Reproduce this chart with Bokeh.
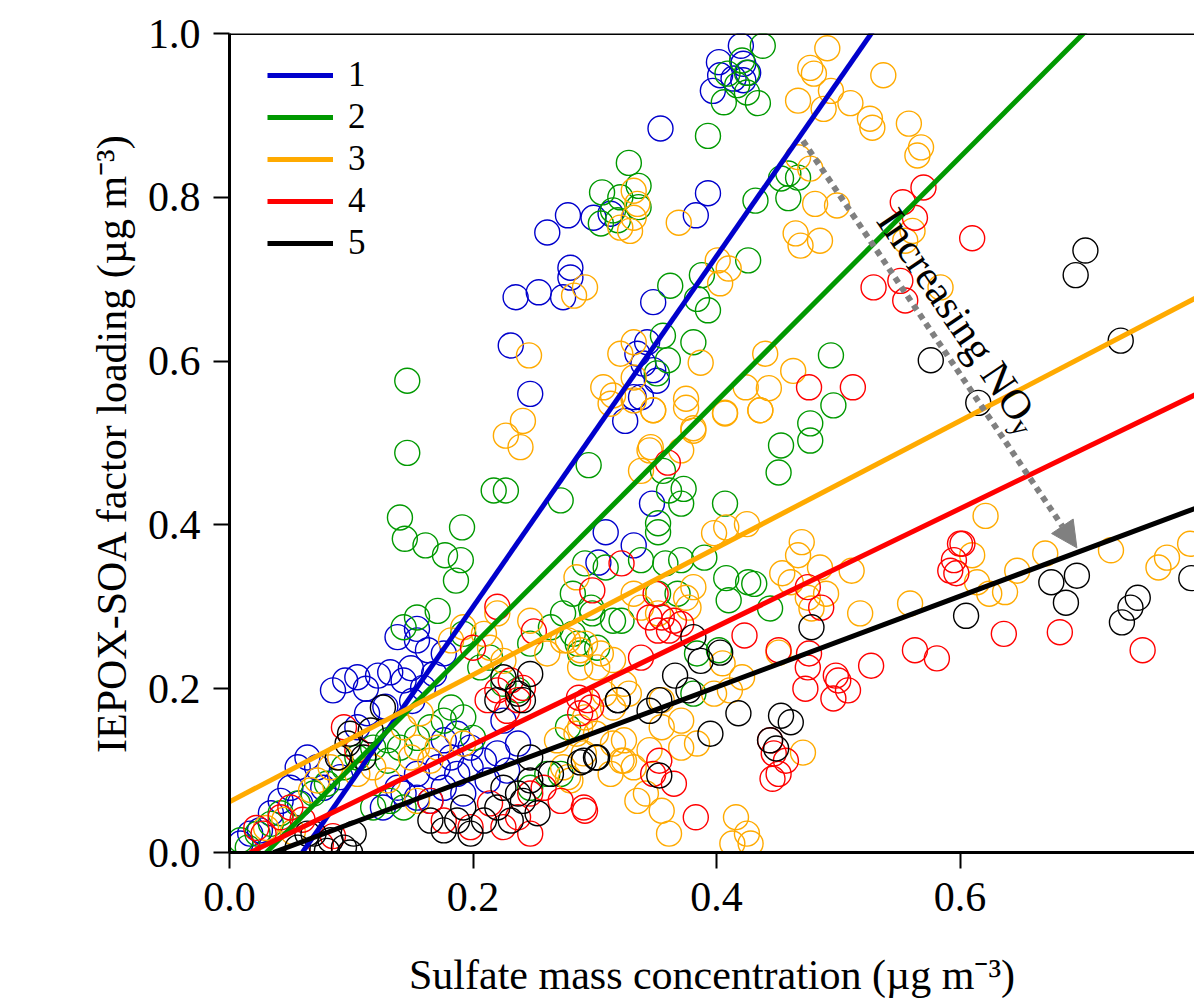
from bokeh.plotting import figure
from bokeh.models import (Range1d, FixedTicker, PrintfTickFormatter, Legend, LegendItem,
                          Label, Arrow, NormalHead, Span, ColumnDataSource)
from bokeh.embed import file_html
from bokeh.resources import INLINE

# ---------------- data ----------------
groups = ["1", "2", "3", "4", "5"]
colors = ["#0000CC", "#009900", "#FFAA00", "#FF0000", "#000000"]

# regression lines (slope, intercept, start x)
slopes = [2.14, 1.49, 0.775, 0.72, 0.555]
intercepts = [-0.128, -0.045, 0.062, -0.0122, -0.020]
x_starts = [0.060, 0.030, 0.0, 0.017, 0.036]
x_line_end = 0.80

x1 = [0.420, 0.402, 0.422, 0.403, 0.426, 0.414, 0.397, 0.422, 0.354, 0.393, 0.383,
      0.278, 0.261, 0.299, 0.313, 0.280, 0.280, 0.254, 0.235, 0.274, 0.348, 0.231, 0.247,
      0.343, 0.335, 0.340, 0.348, 0.351, 0.338, 0.332, 0.325, 0.309, 0.332, 0.347, 0.303,
      0.085, 0.095, 0.105, 0.112, 0.122, 0.132, 0.149, 0.143, 0.159, 0.168, 0.154, 0.138,
      0.154, 0.163, 0.176, 0.113, 0.105, 0.064, 0.056, 0.072, 0.050, 0.042, 0.034, 0.017,
      0.009, 0.025, 0.058, 0.077, 0.091, 0.143, 0.154, 0.165, 0.176, 0.187, 0.198, 0.209,
      0.220, 0.198, 0.182, 0.171, 0.154, 0.138, 0.126, 0.192, 0.212, 0.228, 0.237, 0.225,
      0.187, 0.176, 0.128, 0.150]
y1 = [0.985, 0.965, 0.963, 0.949, 0.952, 0.945, 0.930, 0.943, 0.884, 0.805, 0.778,
      0.778, 0.757, 0.775, 0.780, 0.714, 0.702, 0.684, 0.678, 0.678, 0.672, 0.619, 0.560,
      0.623, 0.609, 0.597, 0.589, 0.576, 0.556, 0.556, 0.527, 0.391, 0.375, 0.426, 0.354,
      0.198, 0.210, 0.214, 0.200, 0.216, 0.220, 0.225, 0.210, 0.201, 0.218, 0.259, 0.263,
      0.273, 0.247, 0.243, 0.170, 0.153, 0.116, 0.104, 0.104, 0.079, 0.063, 0.048, 0.023,
      0.011, 0.027, 0.060, 0.079, 0.092, 0.072, 0.067, 0.063, 0.079, 0.096, 0.104, 0.112,
      0.121, 0.128, 0.116, 0.104, 0.096, 0.079, 0.055, 0.072, 0.088, 0.100, 0.133, 0.161,
      0.145, 0.137, 0.178, 0.185]

x2 = [0.438, 0.421, 0.425, 0.409, 0.417, 0.425, 0.406, 0.434, 0.393, 0.328, 0.336, 0.306,
      0.321, 0.315, 0.336, 0.305, 0.319, 0.459, 0.467, 0.459, 0.432, 0.453, 0.426, 0.388,
      0.362, 0.384, 0.393, 0.356, 0.381, 0.360, 0.351, 0.494, 0.496, 0.477, 0.477, 0.453,
      0.146, 0.146, 0.140, 0.144, 0.161, 0.177, 0.190, 0.186, 0.191, 0.217, 0.227,
      0.295, 0.272, 0.451, 0.407, 0.408, 0.426, 0.431, 0.410, 0.444, 0.390, 0.352, 0.352,
      0.361, 0.373, 0.371, 0.356, 0.292, 0.309, 0.338, 0.358, 0.371, 0.282, 0.298, 0.322,
      0.352, 0.368, 0.282, 0.288, 0.384, 0.402, 0.381, 0.278, 0.272,
      0.009, 0.015, 0.023, 0.034, 0.042, 0.056, 0.069, 0.080, 0.094, 0.105, 0.118, 0.130,
      0.118, 0.132, 0.143, 0.130, 0.140, 0.154, 0.165, 0.176, 0.192, 0.200, 0.182, 0.143,
      0.154, 0.171, 0.192, 0.206, 0.214, 0.225, 0.237, 0.247, 0.264, 0.274, 0.297, 0.315,
      0.302, 0.286, 0.261, 0.247]
y2 = [0.985, 0.967, 0.952, 0.951, 0.937, 0.928, 0.916, 0.915, 0.875, 0.842, 0.814, 0.806,
      0.800, 0.784, 0.788, 0.768, 0.772, 0.829, 0.824, 0.799, 0.796, 0.823, 0.723, 0.705,
      0.692, 0.676, 0.662, 0.631, 0.623, 0.601, 0.585, 0.607, 0.546, 0.524, 0.503, 0.497,
      0.576, 0.488, 0.409, 0.383, 0.375, 0.363, 0.357, 0.332, 0.397, 0.442, 0.442,
      0.473, 0.430, 0.464, 0.426, 0.335, 0.330, 0.328, 0.308, 0.298, 0.360, 0.402, 0.391,
      0.442, 0.444, 0.426, 0.466, 0.353, 0.348, 0.357, 0.353, 0.357, 0.316, 0.292, 0.283,
      0.316, 0.316, 0.267, 0.243, 0.243, 0.247, 0.194, 0.153, 0.096,
      0.015, 0.006, 0.023, 0.035, 0.048, 0.060, 0.072, 0.084, 0.104, 0.116, 0.128, 0.137,
      0.055, 0.063, 0.055, 0.112, 0.128, 0.140, 0.153, 0.161, 0.165, 0.140, 0.177, 0.275,
      0.287, 0.295, 0.267, 0.226, 0.238, 0.206, 0.198, 0.255, 0.275, 0.292, 0.299, 0.283,
      0.250, 0.255, 0.096, 0.079]

x3 = [0.491, 0.477, 0.480, 0.494, 0.467, 0.488, 0.510, 0.526, 0.537, 0.467, 0.477, 0.481,
      0.499, 0.465, 0.469, 0.485, 0.369, 0.332, 0.335, 0.332, 0.329, 0.321, 0.292, 0.283,
      0.401, 0.410, 0.403, 0.246, 0.321, 0.332, 0.387, 0.307, 0.315, 0.313, 0.332, 0.332,
      0.348, 0.375, 0.440, 0.463, 0.424, 0.443, 0.407, 0.436, 0.381, 0.227, 0.239, 0.346,
      0.568, 0.565, 0.528, 0.558, 0.555, 0.584, 0.561,
      0.621, 0.610, 0.614, 0.624, 0.637, 0.647, 0.670, 0.724, 0.763, 0.770, 0.789, 0.559,
      0.518, 0.511, 0.470, 0.467, 0.485, 0.454, 0.461, 0.475, 0.490, 0.478, 0.451, 0.471,
      0.416, 0.425, 0.428, 0.413, 0.361, 0.335, 0.355, 0.342, 0.332, 0.322, 0.345, 0.371,
      0.384, 0.371, 0.355, 0.315, 0.301, 0.292, 0.278, 0.285, 0.308, 0.328, 0.355, 0.398,
      0.411, 0.421, 0.405, 0.377, 0.381, 0.375, 0.352, 0.338, 0.332, 0.305, 0.315, 0.292,
      0.288, 0.278, 0.285, 0.398, 0.425, 0.408, 0.338, 0.345, 0.371, 0.381, 0.348, 0.375,
      0.407, 0.436,
      0.130, 0.154, 0.171, 0.192, 0.165, 0.154, 0.072, 0.083, 0.067, 0.091, 0.105, 0.182,
      0.192, 0.209, 0.220, 0.214, 0.225, 0.247, 0.261, 0.274, 0.288, 0.302, 0.324, 0.315,
      0.288, 0.269, 0.274, 0.291, 0.280, 0.324, 0.324, 0.313, 0.149, 0.143, 0.157, 0.118,
      0.030, 0.045, 0.052, 0.241]
y3 = [0.982, 0.958, 0.951, 0.930, 0.918, 0.908, 0.915, 0.896, 0.949, 0.849, 0.835, 0.792,
      0.790, 0.756, 0.741, 0.747, 0.769, 0.808, 0.792, 0.775, 0.759, 0.763, 0.690, 0.680,
      0.723, 0.713, 0.695, 0.607, 0.609, 0.623, 0.598, 0.568, 0.558, 0.548, 0.580, 0.552,
      0.540, 0.554, 0.609, 0.588, 0.568, 0.567, 0.537, 0.540, 0.518, 0.509, 0.495, 0.495,
      0.861, 0.851, 0.885, 0.890, 0.747, 0.690, 0.759,
      0.411, 0.363, 0.330, 0.316, 0.318, 0.344, 0.365, 0.369, 0.348, 0.360, 0.377, 0.304,
      0.292, 0.344, 0.379, 0.363, 0.348, 0.341, 0.330, 0.311, 0.316, 0.298, 0.244, 0.122,
      0.043, 0.023, 0.011, 0.011, 0.023, 0.063, 0.051, 0.072, 0.104, 0.112, 0.125, 0.128,
      0.133, 0.161, 0.153, 0.133, 0.145, 0.165, 0.092, 0.145, 0.194, 0.194, 0.186, 0.194,
      0.198, 0.214, 0.231, 0.299, 0.324, 0.311, 0.292, 0.299, 0.316, 0.243, 0.235, 0.255,
      0.226, 0.259, 0.336, 0.390, 0.401, 0.397, 0.466, 0.491, 0.491, 0.515, 0.540, 0.543,
      0.536, 0.540,
      0.088, 0.128, 0.128, 0.133, 0.112, 0.063, 0.088, 0.104, 0.076, 0.116, 0.096, 0.259,
      0.275, 0.267, 0.292, 0.250, 0.234, 0.283, 0.243, 0.259, 0.247, 0.226, 0.206, 0.177,
      0.153, 0.137, 0.104, 0.121, 0.088, 0.137, 0.112, 0.096, 0.116, 0.153, 0.170, 0.104,
      0.030, 0.040, 0.025, 0.527]

x4 = [0.360, 0.350, 0.345, 0.355, 0.365, 0.371, 0.352, 0.361, 0.298, 0.322, 0.338, 0.287,
      0.297, 0.423, 0.451, 0.475, 0.486, 0.476, 0.475, 0.473, 0.498, 0.500, 0.508, 0.496,
      0.527, 0.563, 0.581, 0.600, 0.592, 0.597, 0.636, 0.682, 0.750, 0.444, 0.447, 0.457,
      0.451, 0.446, 0.348, 0.353, 0.365, 0.292, 0.383, 0.272,
      0.570, 0.553, 0.563, 0.610, 0.529, 0.551, 0.555, 0.476, 0.512, 0.602, 0.595,
      0.094, 0.042, 0.028, 0.050, 0.105, 0.212, 0.228, 0.220, 0.237, 0.241, 0.231, 0.165,
      0.176, 0.198, 0.214, 0.225, 0.237, 0.247, 0.258, 0.247, 0.291, 0.294, 0.288,
      0.220, 0.250, 0.200, 0.022, 0.075, 0.085, 0.060]
y4 = [0.476, 0.316, 0.287, 0.287, 0.283, 0.279, 0.271, 0.271, 0.320, 0.353, 0.238, 0.189,
      0.177, 0.265, 0.247, 0.324, 0.299, 0.243, 0.226, 0.200, 0.216, 0.210, 0.198, 0.188,
      0.228, 0.247, 0.237, 0.377, 0.344, 0.341, 0.267, 0.269, 0.247, 0.137, 0.121, 0.112,
      0.096, 0.090, 0.096, 0.112, 0.084, 0.051, 0.043, 0.063,
      0.812, 0.794, 0.775, 0.750, 0.690, 0.698, 0.674, 0.568, 0.568, 0.377, 0.357,
      0.153, 0.043, 0.023, 0.055, 0.125, 0.186, 0.173, 0.198, 0.186, 0.201, 0.210, 0.063,
      0.039, 0.031, 0.060, 0.031, 0.043, 0.023, 0.079, 0.072, 0.055, 0.186, 0.170,
      0.300, 0.270, 0.250, 0.030, 0.010, 0.020, 0.040]

x5 = [0.695, 0.703, 0.732, 0.576, 0.615, 0.605, 0.675, 0.696, 0.687, 0.746, 0.740, 0.733,
      0.790, 0.478, 0.418, 0.453, 0.461, 0.444, 0.449, 0.395, 0.353, 0.381, 0.387, 0.403,
      0.366, 0.377, 0.353, 0.345, 0.319, 0.301, 0.288,
      0.097, 0.110, 0.126, 0.116, 0.099, 0.089, 0.069, 0.083, 0.094, 0.102, 0.080, 0.056,
      0.064, 0.099, 0.225, 0.247, 0.237, 0.220, 0.241, 0.165, 0.176, 0.187, 0.192, 0.198,
      0.209, 0.220, 0.231, 0.241, 0.253, 0.247, 0.264, 0.302, 0.291, 0.319, 0.225, 0.237,
      0.247]
y5 = [0.705, 0.735, 0.625, 0.601, 0.549, 0.289, 0.330, 0.338, 0.305, 0.311, 0.299, 0.281,
      0.335, 0.275, 0.170, 0.167, 0.159, 0.137, 0.127, 0.145, 0.094, 0.263, 0.234, 0.244,
      0.216, 0.198, 0.186, 0.173, 0.186, 0.116, 0.110,
      0.133, 0.116, 0.177, 0.149, 0.145, 0.116, 0.023, 0.015, 0.006, 0.023, 0.002, 0.006,
      0.023, 0.000, 0.214, 0.218, 0.194, 0.186, 0.186, 0.039, 0.027, 0.039, 0.055, 0.023,
      0.039, 0.055, 0.039, 0.063, 0.048, 0.088, 0.096, 0.116, 0.112, 0.186, 0.079, 0.072,
      0.116]

xs_all = [x1, x2, x3, x4, x5]
ys_all = [y1, y2, y3, y4, y5]

# annotation arrow (data coordinates)
arrow_start = (0.471, 0.869)
arrow_end = (0.696, 0.372)
arrow_text = "Increasing NO"
arrow_text_pos = (0.540, 0.781)
arrow_sub = "y"
arrow_sub_pos = (0.647, 0.527)
arrow_angle = -56

x_ticks = [0.0, 0.2, 0.4, 0.6, 0.8]
y_ticks = [0.0, 0.2, 0.4, 0.6, 0.8, 1.0]
x_max = 0.7926

FONT = "Liberation Serif"

# ---------------- figure ----------------
p = figure(width=1194, height=1005, output_backend="svg", toolbar_location=None,
           x_range=Range1d(0, x_max), y_range=Range1d(0, 1.0),
           min_border_left=229, min_border_right=0, min_border_top=33, min_border_bottom=153)
p.outline_line_color = None
p.grid.visible = False
p.background_fill_color = "white"

for ax in (p.xaxis[0], p.yaxis[0]):
    ax.axis_line_width = 3
    ax.major_tick_line_width = 2
    ax.major_tick_out = 16
    ax.major_tick_in = 0
    ax.minor_tick_line_color = None
    ax.major_label_text_font = FONT
    ax.major_label_text_font_size = "42px"
    ax.major_label_text_color = "black"
    ax.axis_label_text_font = FONT
    ax.axis_label_text_font_size = "42px"
    ax.axis_label_text_font_style = "normal"
    ax.axis_label_text_color = "black"
    ax.formatter = PrintfTickFormatter(format="%.1f")

p.xaxis[0].ticker = FixedTicker(ticks=x_ticks)
p.yaxis[0].ticker = FixedTicker(ticks=y_ticks)
p.xaxis[0].major_label_standoff = 14
p.yaxis[0].major_label_standoff = 13
p.xaxis[0].axis_label = "Sulfate mass concentration (\u00b5g m\u207b\u00b3)"
p.yaxis[0].axis_label = "IEPOX-SOA factor loading (\u00b5g m\u207b\u00b3)"
p.xaxis[0].axis_label_standoff = 38
p.yaxis[0].axis_label_standoff = 10

# scatter points
for xs, ys, c in zip(xs_all, ys_all, colors):
    src = ColumnDataSource(dict(x=xs, y=ys))
    p.scatter("x", "y", source=src, marker="circle", size=25, fill_color=None,
              line_color=c, line_width=1.4)

# regression lines
line_renderers = []
for s, b, x0, c in zip(slopes, intercepts, x_starts, colors):
    lx = [x0, x_line_end]
    ly = [s * v + b for v in lx]
    r = p.line(lx, ly, line_color=c, line_width=5)
    line_renderers.append(r)

# top frame border
p.add_layout(Span(location=1.0, dimension="width", line_color="black", line_width=3))

# legend
items = [LegendItem(label=g, renderers=[r]) for g, r in zip(groups, line_renderers)]
legend = Legend(items=items, location=(38, 588), border_line_alpha=0, background_fill_alpha=0,
                label_text_font=FONT, label_text_font_size="35px", label_text_color="black",
                glyph_width=66, glyph_height=42, label_height=42, spacing=0, padding=0,
                margin=0, label_standoff=15)
p.add_layout(legend)

# arrow + text
p.add_layout(Arrow(end=NormalHead(size=26, fill_color="#808080", line_color="#808080"),
                   x_start=arrow_start[0], y_start=arrow_start[1],
                   x_end=arrow_end[0], y_end=arrow_end[1],
                   line_color="#808080", line_width=6, line_dash="6 5"))
p.add_layout(Label(x=arrow_text_pos[0], y=arrow_text_pos[1], text=arrow_text,
                   angle=arrow_angle, angle_units="deg", text_font=FONT,
                   text_font_size="42px", text_baseline="alphabetic", text_align="left",
                   text_color="black"))
p.add_layout(Label(x=arrow_sub_pos[0], y=arrow_sub_pos[1], text=arrow_sub,
                   angle=arrow_angle, angle_units="deg", text_font=FONT,
                   text_font_size="28px", text_baseline="alphabetic", text_align="left",
                   text_color="black"))

open("out.html", "w").write(file_html(p, INLINE))
